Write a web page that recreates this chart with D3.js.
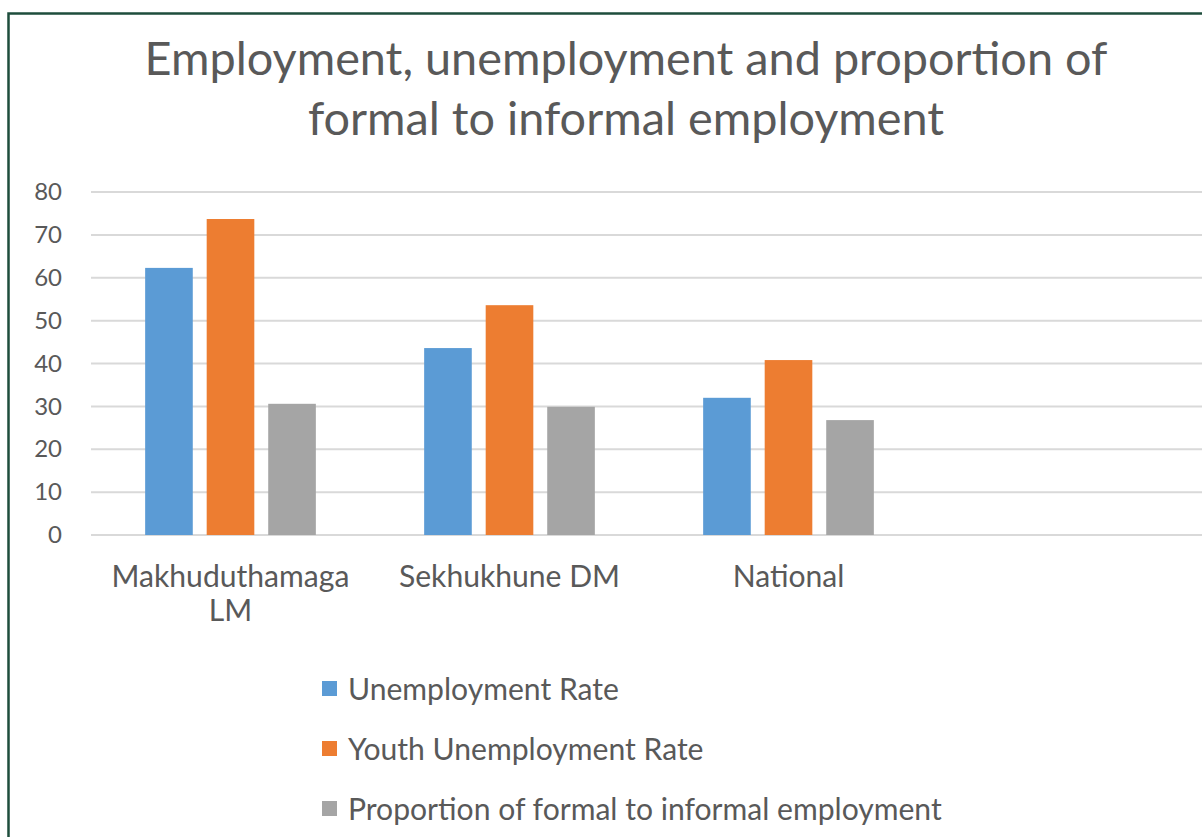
<!DOCTYPE html>
<html lang="en">
<head>
    <meta charset="UTF-8">
    <title>Employment chart</title>
    <style>
        body { margin: 0; background: #fff; }
        text { font-family: Lato, "Open Sans", sans-serif; fill: #595959; }
        .grid line { stroke: #d9d9d9; stroke-width: 2px; }
    </style>
    <script src="https://d3js.org/d3.v7.min.js"></script>
</head>
<body>
<div class="container"></div>
<script>
    // data
    const categories = [["Makhuduthamaga", "LM"], ["Sekhukhune DM"], ["National"], [""]];
    const seriesNames = ["Unemployment Rate", "Youth Unemployment Rate", "Proportion of formal to informal employment"];
    const unemployment = [62.3, 43.6, 32.0];
    const youthUnemployment = [73.7, 53.6, 40.8];
    const formalInformal = [30.6, 29.9, 26.8];
    const yTicks = [0, 10, 20, 30, 40, 50, 60, 70, 80];
    const colors = ["#5b9bd5", "#ed7d31", "#a5a5a5"];

    const width = 1202, height = 837;
    const svg = d3.select(".container").append("svg")
        .attr("width", width)
        .attr("height", height);

    // frame
    svg.append("rect")
        .attr("x", 8.5).attr("y", 13.5)
        .attr("width", width + 20).attr("height", height + 20)
        .attr("fill", "none")
        .attr("stroke", "#1e4d3c")
        .attr("stroke-width", 2.5);

    // scale a text's font so that it fills the wanted width
    function fitSize(sel, target) {
        sel.attr("font-size", 40);
        const w = sel.node().getComputedTextLength();
        return 40 * target / w;
    }

    const catKeys = categories.map(c => c.join(" "));
    const x0 = d3.scaleBand().domain(catKeys).range([91, 1207]);
    const x1 = d3.scaleBand().domain(seriesNames)
        .range([0, x0.bandwidth()])
        .paddingInner(0.226).paddingOuter(0.88);
    const y = d3.scaleLinear().domain([0, 80]).range([535, 192]);

    // title
    const titleLines = ["Employment, unemployment and proportion of", "formal to informal employment"];
    const title = svg.append("g");
    const t0 = title.append("text").text(titleLines[0]);
    const titleSize = fitSize(t0, 963);
    t0.remove();
    title.selectAll("text").data(titleLines).join("text")
        .attr("x", 626)
        .attr("y", (d, i) => 75 + i * 60)
        .attr("text-anchor", "middle")
        .attr("font-size", titleSize)
        .text(d => d);

    // gridlines
    svg.append("g").attr("class", "grid")
        .selectAll("line").data(yTicks).join("line")
        .attr("x1", 91).attr("x2", width)
        .attr("y1", d => y(d)).attr("y2", d => y(d));

    // y axis labels
    const yAxis = svg.append("g")
        .attr("transform", "translate(91,0)")
        .call(d3.axisLeft(y).tickValues(yTicks).tickSize(0).tickPadding(29));
    yAxis.select(".domain").remove();
    yAxis.selectAll("text")
        .attr("font-size", 24)
        .attr("font-family", "Lato, sans-serif")
        .attr("fill", "#595959");

    // bars
    const values = [unemployment, youthUnemployment, formalInformal];
    const groups = svg.append("g").selectAll("g")
        .data(catKeys.slice(0, 3)).join("g")
        .attr("transform", d => `translate(${x0(d)},0)`);
    groups.selectAll("rect")
        .data((d, ci) => seriesNames.map((s, si) => ({s, v: values[si][ci], c: colors[si]})))
        .join("rect")
        .attr("x", d => x1(d.s))
        .attr("width", x1.bandwidth())
        .attr("y", d => y(d.v))
        .attr("height", d => y(0) - y(d.v))
        .attr("fill", d => d.c);

    // legend size from the longest entry
    const legend = svg.append("g");
    const lt = legend.append("text").text(seriesNames[2]);
    const legendSize = fitSize(lt, 594);
    lt.remove();

    // category labels
    const xAxis = svg.append("g");
    categories.forEach((lines, i) => {
        const t = xAxis.append("text")
            .attr("x", x0(catKeys[i]) + x0.bandwidth() / 2)
            .attr("y", 587)
            .attr("text-anchor", "middle")
            .attr("font-size", legendSize);
        lines.forEach((l, j) => {
            t.append("tspan")
                .attr("x", x0(catKeys[i]) + x0.bandwidth() / 2)
                .attr("dy", j === 0 ? 0 : 34)
                .text(l);
        });
    });

    seriesNames.forEach((name, i) => {
        const row = legend.append("g")
            .attr("transform", `translate(322, ${689 + i * 60})`);
        row.append("rect")
            .attr("y", -8)
            .attr("width", 15).attr("height", 15)
            .attr("fill", colors[i]);
        row.append("text")
            .attr("x", 26)
            .attr("dy", "0.35em")
            .attr("font-size", legendSize)
            .text(name);
    });
</script>
</body>
</html>
